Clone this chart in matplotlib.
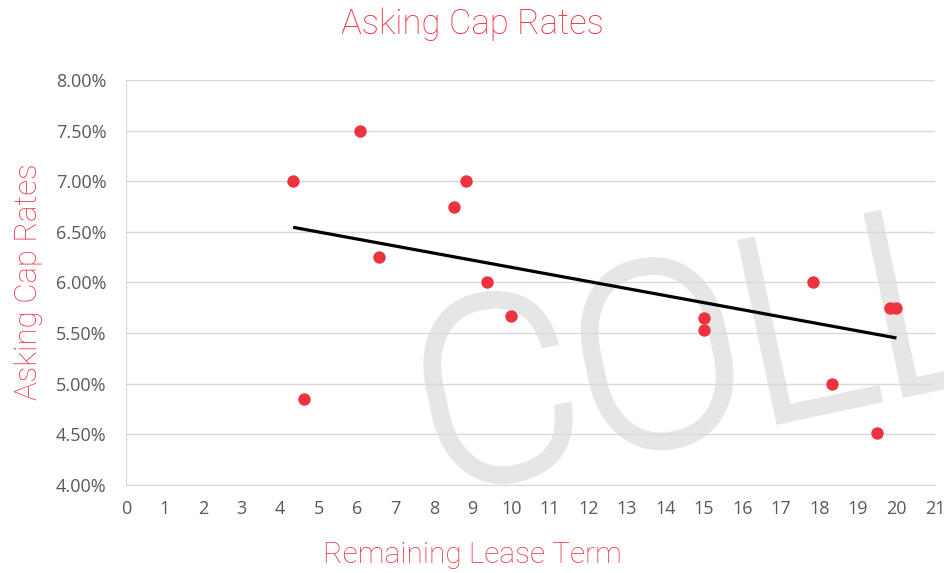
import numpy as np
from matplotlib import pyplot as plt
from matplotlib import patheffects as pe
from matplotlib.ticker import FuncFormatter

# remaining lease term (years) vs asking cap rate (%)
lease_term = [4.34, 6.07, 4.62, 6.57, 8.51, 8.83, 9.37, 10.0, 15.0, 15.0, 17.83, 18.33, 19.5, 19.83, 20.0]
cap_rate = [7.00, 7.50, 4.85, 6.25, 6.75, 7.00, 6.00, 5.67, 5.65, 5.53, 6.00, 5.00, 4.51, 5.75, 5.75]

# excel linear trendline, end points
trend_x = [4.34, 20.0]
trend_y = [6.545, 5.452]

x_ticks = list(range(0, 22))
y_ticks = [4.0, 4.5, 5.0, 5.5, 6.0, 6.5, 7.0, 7.5, 8.0]

red = '#EE3340'
grey_text = '#595959'
wm_grey = '#e6e6e6'

fig = plt.figure(figsize=(9.45, 5.73), dpi=100)
ax = fig.add_axes([0.1333, 0.1536, 0.8561, 0.7068])

# watermark (sits under the grid), thin font thickened with a stroke
ax.text(0.461, 0.142, 'COLL', transform=fig.transFigure, fontsize=180, color=wm_grey,
        family='Roboto', fontweight='light', rotation=12, rotation_mode='anchor',
        ha='left', va='baseline', zorder=0.1, clip_on=False,
        path_effects=[pe.withStroke(linewidth=8, foreground=wm_grey, joinstyle='miter')])

ax.scatter(lease_term, cap_rate, s=80, color=red, zorder=3, linewidths=0)
ax.plot(trend_x, trend_y, color='black', lw=2.3, zorder=2, solid_capstyle='butt')

ax.set_xlim(0, 21)
ax.set_ylim(4, 8)
ax.set_xticks(x_ticks)
ax.set_yticks(y_ticks)
ax.yaxis.set_major_formatter(FuncFormatter(lambda v, p: '%.2f%%' % v))
ax.grid(axis='y', color='#d9d9d9', lw=1)
ax.set_axisbelow(True)
for s in ['top', 'right']:
    ax.spines[s].set_visible(False)
for s in ['left', 'bottom']:
    ax.spines[s].set_color('#d9d9d9')
ax.tick_params(length=0, labelsize=13, labelcolor=grey_text)
ax.tick_params(axis='y', pad=14)
ax.tick_params(axis='x', pad=11)
for lab in ax.get_xticklabels() + ax.get_yticklabels():
    lab.set_family('Open Sans')

fig.text(0.5, 0.957, 'Asking Cap Rates', ha='center', va='center', fontsize=25,
         color=red, family='Roboto', fontweight='light')
fig.text(0.5, 0.032, 'Remaining Lease Term', ha='center', va='center', fontsize=21.5,
         color=red, family='Roboto', fontweight='light')
fig.text(0.03, 0.509, 'Asking Cap Rates', ha='center', va='center', fontsize=22.5,
         color=red, family='Roboto', fontweight='light', rotation=90)

fig.savefig('out.png')
